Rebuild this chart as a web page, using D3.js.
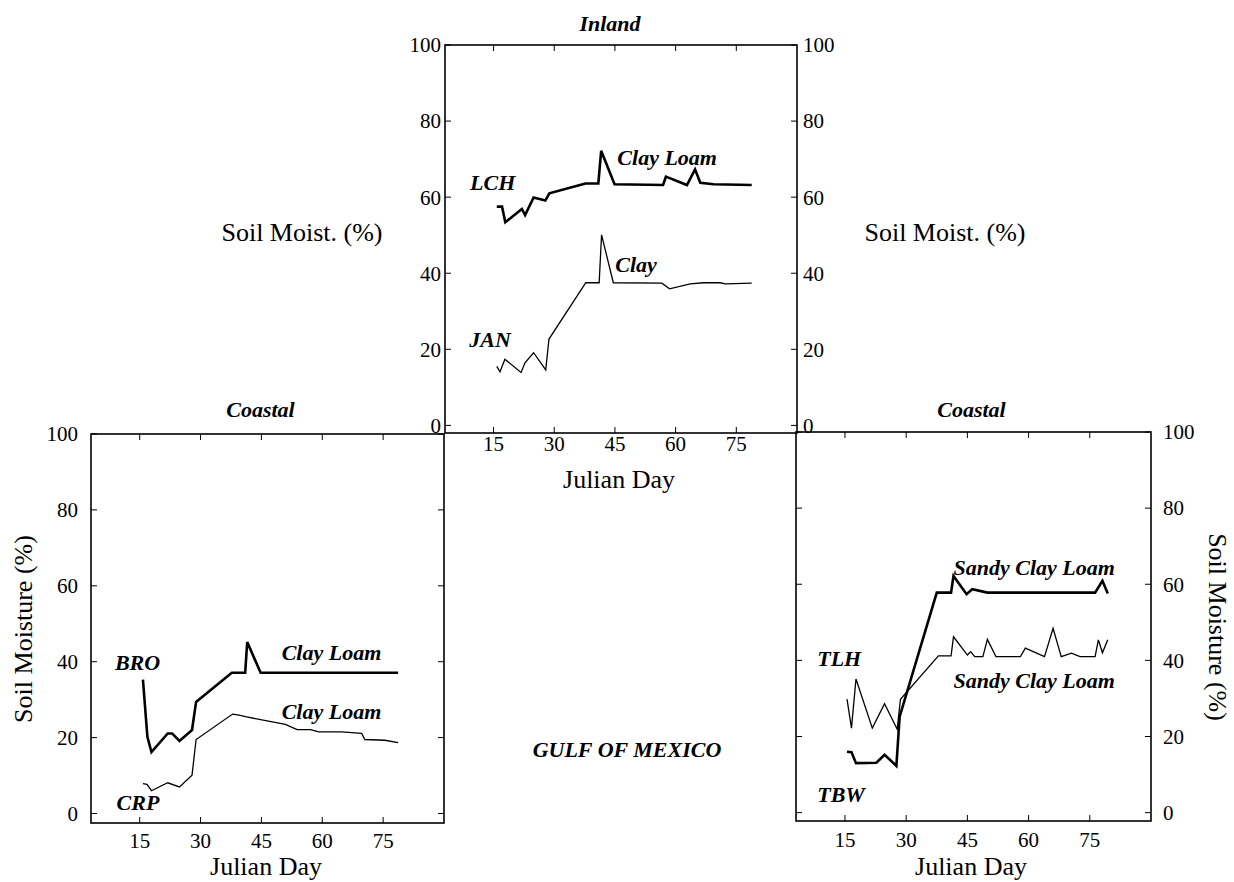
<!DOCTYPE html>
<html><head><meta charset="utf-8">
<script src="https://cdn.jsdelivr.net/npm/d3@7"></script>
<style>
html,body{margin:0;padding:0;background:#fff;}
svg{display:block;font-family:"Liberation Serif","Times New Roman",serif;}
</style></head>
<body><svg id="c" width="1234" height="882"></svg>
<script>
// ---- data: [julian day, soil moisture %] ----
const xTicks = [15, 30, 45, 60, 75];
const yTicks = [0, 20, 40, 60, 80, 100];

const lch = [[15.8,57.5],[17.1,57.5],[17.9,53.4],[22.0,56.9],[22.8,55.3],[24.9,59.9],[27.8,59.1],[28.8,61.0],[37.7,63.6],[40.9,63.6],[41.6,72.2],[44.9,63.4],[56.9,63.2],[57.6,65.4],[62.8,63.2],[64.8,67.3],[66.1,63.8],[69.4,63.4],[78.8,63.2]];
const jan = [[15.8,15.5],[16.6,14.1],[17.8,17.4],[21.8,13.9],[22.8,16.5],[24.9,19.1],[27.9,14.6],[28.7,22.7],[37.8,37.5],[41.1,37.5],[41.7,50.1],[44.6,37.5],[56.6,37.4],[58.5,35.9],[63.6,37.2],[66.9,37.5],[71.0,37.5],[72.3,37.2],[78.8,37.4]];
const bro = [[15.8,35.3],[16.9,20.2],[17.9,16.2],[21.9,21.1],[23.0,21.1],[24.8,19.1],[27.9,22.0],[28.9,29.4],[37.7,37.1],[41.0,37.1],[41.5,45.2],[44.8,37.1],[78.7,37.1]];
const crp = [[15.8,7.9],[16.8,7.7],[17.9,6.0],[21.9,8.1],[24.8,7.0],[27.9,10.1],[28.9,19.5],[37.9,26.2],[39.5,25.9],[41.1,25.5],[50.9,23.5],[53.8,22.1],[57.1,22.1],[59.1,21.5],[64.8,21.5],[69.7,21.1],[70.5,19.5],[75.4,19.3],[78.7,18.7]];
const tbw = [[15.5,16.0],[16.6,15.9],[17.7,13.0],[22.7,13.1],[24.7,15.2],[27.6,12.3],[28.4,25.2],[37.5,57.8],[41.0,57.8],[41.6,62.2],[44.8,57.4],[46.2,58.7],[49.9,57.8],[76.3,57.8],[78.1,60.9],[79.4,57.6]];
const tlh = [[15.5,29.8],[16.6,22.2],[17.7,35.1],[21.7,22.2],[24.7,28.6],[27.8,21.9],[28.6,29.8],[37.9,41.2],[41.0,41.2],[41.6,46.2],[45.0,41.4],[45.8,42.3],[46.8,41.0],[48.8,41.0],[49.9,45.5],[52.0,41.0],[58.0,41.0],[59.2,43.2],[63.9,41.0],[66.0,48.4],[68.0,41.0],[70.5,41.9],[72.6,41.0],[76.3,41.0],[77.1,45.4],[78.1,42.0],[79.4,45.4]];

// labels: [text, day, value]
const topLabels = [["LCH",9.2,61.9],["Clay Loam",45.6,68.5],["Clay",45.1,40.3],["JAN",9.0,20.6]];
const leftLabels = [["BRO",8.9,37.8],["Clay Loam",50.0,40.4],["Clay Loam",50.0,25.0],["CRP",9.3,0.9]];
const rightLabels = [["Sandy Clay Loam",41.6,62.4],["Sandy Clay Loam",41.6,32.7],["TLH",8.2,38.6],["TBW",8.2,2.7]];

const svg = d3.select("#c");
const TICK = 6;

function panel(o) {
  const x = d3.scaleLinear().domain([3, 90]).range([o.l, o.r]);
  const y = d3.scaleLinear().domain([o.ymin, 100]).range([o.b, o.t]);
  const g = svg.append("g");
  // frame
  g.append("rect").attr("x", o.l).attr("y", o.t).attr("width", o.r - o.l).attr("height", o.b - o.t)
    .attr("fill", "none").attr("stroke", "#000").attr("stroke-width", 1.6);
  // inward ticks on all sides
  xTicks.forEach(d => {
    g.append("line").attr("x1", x(d)).attr("x2", x(d)).attr("y1", o.b).attr("y2", o.b - TICK).attr("stroke", "#000");
    g.append("line").attr("x1", x(d)).attr("x2", x(d)).attr("y1", o.t).attr("y2", o.t + TICK).attr("stroke", "#000");
  });
  yTicks.forEach(d => {
    g.append("line").attr("x1", o.l).attr("x2", o.l + TICK).attr("y1", y(d)).attr("y2", y(d)).attr("stroke", "#000");
    g.append("line").attr("x1", o.r).attr("x2", o.r - TICK).attr("y1", y(d)).attr("y2", y(d)).attr("stroke", "#000");
  });
  // x tick labels
  g.selectAll(null).data(xTicks).join("text")
    .attr("x", d => x(d)).attr("y", o.b + o.xlabOff).attr("text-anchor", "middle")
    .attr("font-size", 21).text(d => d);
  // x title
  g.append("text").attr("x", o.xtitleX).attr("y", o.b + o.xtitleOff).attr("text-anchor", "middle")
    .attr("font-size", 26).text("Julian Day");
  // y tick labels
  if (o.yLeft != null) {
    g.selectAll(null).data(yTicks).join("text")
      .attr("x", o.l - o.yLeft).attr("y", d => y(d)).attr("dy", "0.35em").attr("text-anchor", "end")
      .attr("font-size", 21).text(d => d);
  }
  if (o.yRight != null) {
    g.selectAll(null).data(yTicks).join("text")
      .attr("x", o.r + o.yRight).attr("y", d => y(d)).attr("dy", "0.35em").attr("text-anchor", "start")
      .attr("font-size", 21).text(d => d);
  }
  // lines
  const line = d3.line().x(d => x(d[0])).y(d => y(d[1]));
  g.append("path").datum(o.thick).attr("d", line).attr("fill", "none").attr("stroke", "#000")
    .attr("stroke-width", 2.6).attr("stroke-linejoin", "miter");
  g.append("path").datum(o.thin).attr("d", line).attr("fill", "none").attr("stroke", "#000")
    .attr("stroke-width", 1.3).attr("stroke-linejoin", "miter");
  // labels
  g.selectAll(null).data(o.labels).join("text")
    .attr("x", d => x(d[1])).attr("y", d => y(d[2]))
    .attr("font-size", 22).attr("font-weight", "bold").attr("font-style", "italic").text(d => d[0]);
  // title
  g.append("text").attr("x", (o.l + o.r) / 2 + o.titleDx).attr("y", o.t - o.titleOff).attr("text-anchor", "middle")
    .attr("font-size", 22).attr("font-weight", "bold").attr("font-style", "italic").text(o.title);
  return {x, y, g};
}

// top (inland) panel
panel({l: 445, r: 797, t: 45, b: 433, ymin: -2, thick: lch, thin: jan, labels: topLabels,
  yLeft: 4, yRight: 6, xlabOff: 18, xtitleOff: 55, xtitleX: 619, title: "Inland", titleOff: 14, titleDx: -11});
// left (coastal) panel
panel({l: 91, r: 444, t: 434, b: 823, ymin: -2.5, thick: bro, thin: crp, labels: leftLabels,
  yLeft: 13, yRight: null, xlabOff: 25, xtitleOff: 52, xtitleX: 266, title: "Coastal", titleOff: 17, titleDx: -7});
// right (coastal) panel
panel({l: 796, r: 1151, t: 432, b: 821, ymin: -2.2, thick: tbw, thin: tlh, labels: rightLabels,
  yLeft: null, yRight: 12, xlabOff: 26, xtitleOff: 54, xtitleX: 971, title: "Coastal", titleOff: 15, titleDx: -2});

// axis titles
svg.append("text").attr("x", 302).attr("y", 241).attr("text-anchor", "middle").attr("font-size", 26).text("Soil Moist. (%)");
svg.append("text").attr("x", 945).attr("y", 241).attr("text-anchor", "middle").attr("font-size", 26).text("Soil Moist. (%)");
svg.append("text").attr("transform", "translate(32,629) rotate(-90)").attr("text-anchor", "middle")
  .attr("font-size", 26).text("Soil Moisture (%)");
svg.append("text").attr("transform", "translate(1209,627) rotate(90)").attr("text-anchor", "middle")
  .attr("font-size", 26).text("Soil Moisture (%)");

// centre label
svg.append("text").attr("x", 627).attr("y", 757).attr("text-anchor", "middle")
  .attr("font-size", 22).attr("font-weight", "bold").attr("font-style", "italic").text("GULF OF MEXICO");
</script>
</body></html>
